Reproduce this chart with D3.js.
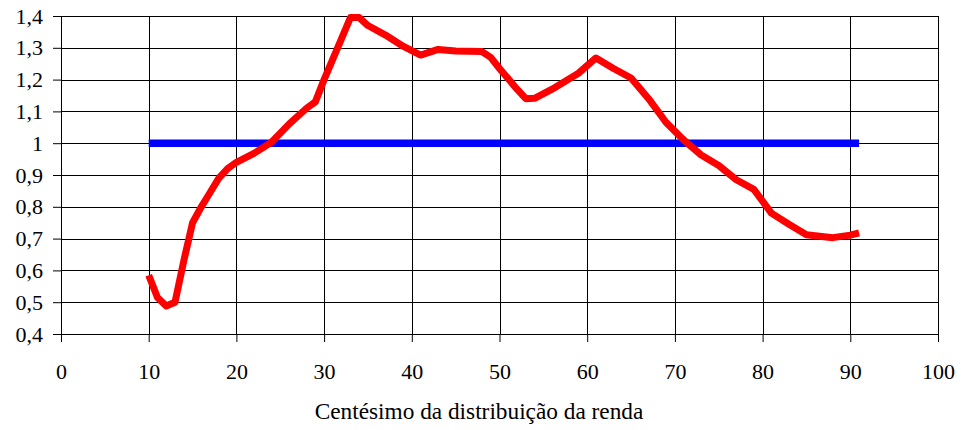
<!DOCTYPE html>
<html>
<head>
<meta charset="utf-8">
<script src="https://cdn.jsdelivr.net/npm/d3@7"></script>
<style>
  body { margin: 0; background: #fff; }
  svg text { font-family: "Liberation Serif", Tinos, "Times New Roman", "DejaVu Serif", serif; }
</style>
</head>
<body>
<svg id="chart"></svg>
<script>
// centile positions and ratio values for the red curve
const centiles = [10, 11, 12, 13, 14, 15, 16, 17, 18, 19, 20, 22, 24, 26, 28, 29, 30, 32, 33, 34, 35, 37, 39, 41, 43, 45, 48, 49, 50, 52, 53, 54, 56, 59, 61, 63, 65, 67, 69, 71, 73, 75, 77, 79, 81, 83, 85, 88, 90, 91];
const ratios = [0.585, 0.515, 0.488, 0.50, 0.63, 0.75, 0.80, 0.845, 0.89, 0.92, 0.94, 0.968, 1.003, 1.06, 1.11, 1.13, 1.20, 1.33, 1.395, 1.395, 1.37, 1.34, 1.305, 1.277, 1.295, 1.29, 1.288, 1.27, 1.235, 1.17, 1.14, 1.141, 1.17, 1.22, 1.268, 1.235, 1.205, 1.14, 1.065, 1.01, 0.963, 0.93, 0.885, 0.855, 0.78, 0.745, 0.712, 0.703, 0.711, 0.718];
// reference line (ratio = 1)
const refCentiles = [10, 91];
const refValues = [1, 1];

const xTicks = [0, 10, 20, 30, 40, 50, 60, 70, 80, 90, 100];
const yTicks = [0.4, 0.5, 0.6, 0.7, 0.8, 0.9, 1, 1.1, 1.2, 1.3, 1.4];
const xTitle = "Centésimo da distribuição da renda";

const W = 961, H = 430;
const margin = { top: 16, right: 23, bottom: 96, left: 61 };
const width = W - margin.left - margin.right;
const height = H - margin.top - margin.bottom;
const serif = "'Liberation Serif', Tinos, 'Times New Roman', 'DejaVu Serif', serif";

const svg = d3.select("#chart").attr("width", W).attr("height", H);
const g = svg.append("g").attr("transform", `translate(${margin.left},${margin.top})`);

const x = d3.scaleLinear().domain([0, 100]).range([0, width]);
const y = d3.scaleLinear().domain([0.4, 1.4]).range([height, 0]);

const pt = d3.formatLocale({ decimal: ",", thousands: ".", grouping: [3], currency: ["R$", ""] });
const yFmt = pt.format(".1~f");

// grid
g.append("g").selectAll("line").data(yTicks).join("line")
    .attr("x1", 0).attr("x2", width)
    .attr("y1", d => Math.round(y(d)) + 0.5).attr("y2", d => Math.round(y(d)) + 0.5)
    .attr("stroke", "#000").attr("stroke-width", 1);
g.append("g").selectAll("line").data(xTicks).join("line")
    .attr("y1", 0).attr("y2", height)
    .attr("x1", d => Math.round(x(d)) + 0.5).attr("x2", d => Math.round(x(d)) + 0.5)
    .attr("stroke", "#000").attr("stroke-width", 1);

// axes
const yAxis = g.append("g")
    .call(d3.axisLeft(y).tickValues(yTicks).tickFormat(yFmt).tickSize(8).tickPadding(10).tickSizeOuter(0));
const xAxis = g.append("g")
    .attr("transform", `translate(0,${height})`)
    .call(d3.axisBottom(x).tickValues(xTicks).tickSize(8).tickPadding(21).tickSizeOuter(0));

[xAxis, yAxis].forEach(a => {
    a.attr("font-family", serif);
    a.select(".domain").attr("stroke", "#000");
    a.selectAll(".tick line").attr("stroke", "#000");
    a.selectAll(".tick text").attr("fill", "#000").style("font-size", "22px");
});

// lines
const line = d3.line().x(d => x(d[0])).y(d => y(d[1]));

g.append("path")
    .datum(d3.zip(refCentiles, refValues))
    .attr("d", line)
    .attr("fill", "none")
    .attr("stroke", "#0000ff")
    .attr("stroke-width", 7.5);

g.append("path")
    .datum(d3.zip(centiles, ratios))
    .attr("d", line)
    .attr("fill", "none")
    .attr("stroke", "#ff0000")
    .attr("stroke-width", 7)
    .attr("stroke-linejoin", "round");

svg.append("text")
    .attr("x", 479).attr("y", 419)
    .attr("text-anchor", "middle")
    .attr("font-family", serif)
    .style("font-size", "23.3px")
    .attr("fill", "#000")
    .text(xTitle);
</script>
</body>
</html>
